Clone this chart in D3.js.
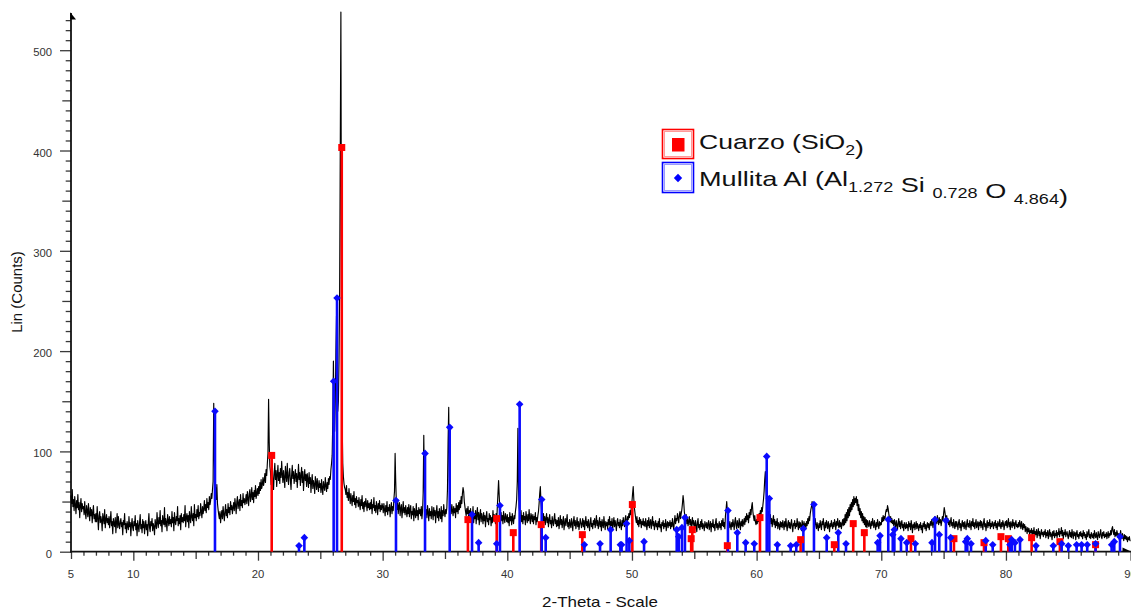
<!DOCTYPE html>
<html><head><meta charset="utf-8">
<script src="https://cdn.jsdelivr.net/npm/d3@7"></script>
<style>html,body{margin:0;padding:0;background:#fff;} svg{display:block;}</style>
</head><body><svg id="chart" width="1131" height="613"></svg>
<script>
// Diffractogram, sampled every 0.05° 2θ from 5° to 90° (one row per degree)
const scanStart = 5, scanStep = 0.05;
const scanCounts = [
  56,48,62,45,52,41,55,47,38,51,44,57,42,49,34,46,53,40,48,43,   // 5
  45,37,50,39,33,46,41,35,48,38,31,44,36,42,29,39,46,33,37,30,   // 6
  38,30,45,33,22,36,40,29,35,31,21,38,33,28,42,24,32,37,29,33,   // 7
  27,35,24,31,40,26,30,18,33,28,25,34,19,29,38,24,35,27,23,30,   // 8
  33,25,29,17,31,27,38,23,28,19,30,26,22,35,25,29,16,27,33,24,   // 9
  21,30,26,36,22,28,16,31,25,20,29,37,23,27,19,32,24,30,18,26,   // 10
  31,22,27,16,29,38,24,20,30,26,33,21,28,25,17,32,27,23,39,29,   // 11
  24,34,28,41,26,31,20,36,30,27,44,25,33,29,21,37,31,26,35,28,   // 12
  32,25,40,29,34,21,39,30,27,35,31,45,26,33,28,36,22,38,30,34,   // 13
  29,37,31,46,25,34,38,30,36,24,40,33,29,45,35,31,38,26,47,34,   // 14
  37,31,42,35,46,33,39,36,48,40,34,45,38,43,51,41,47,39,53,44,   // 15
  49,42,55,47,51,58,53,62,70,148,95,58,64,52,67,48,42,37,33,40,  // 16
  29,36,41,33,45,38,31,40,47,36,42,34,48,39,44,37,50,42,46,38,   // 17
  44,49,41,53,46,38,50,55,43,48,52,41,57,46,51,44,58,49,53,47,   // 18
  51,57,48,60,53,46,58,62,50,55,64,52,59,49,61,55,66,53,58,63,   // 19
  56,65,58,69,61,72,63,67,74,66,71,78,69,82,76,88,98,152,110,85, // 20
  80,67,76,84,70,62,79,88,72,81,65,77,86,71,79,68,83,74,90,77,   // 21
  69,81,73,64,85,76,70,88,74,67,79,83,71,62,77,86,73,80,68,75,   // 22
  82,70,78,64,74,87,72,79,66,76,84,69,80,61,73,82,71,77,65,78,   // 23
  72,64,79,68,74,59,70,77,63,71,67,58,75,69,62,73,66,60,71,64,   // 24
  68,59,72,63,57,70,65,61,74,66,60,69,63,73,67,75,72,82,88,96,   // 25
  130,190,140,120,150,200,235,170,140,150,190,260,400,538,260,130,88,75,68,64, // 26
  62,57,66,54,59,51,63,55,48,58,52,46,56,50,60,47,53,44,55,49,   // 27
  51,45,54,47,42,52,46,56,43,49,40,50,45,53,47,41,51,44,48,42,   // 28
  49,43,52,38,47,44,54,41,46,39,50,45,37,48,43,51,40,46,42,48,   // 29
  45,39,48,42,36,46,40,50,37,44,41,47,35,43,49,38,45,41,52,60,   // 30
  98,70,48,42,52,38,45,49,36,43,47,34,41,50,39,44,37,46,40,35,   // 31
  44,38,47,35,42,46,33,40,37,45,31,43,39,34,48,36,41,32,44,38,   // 32
  42,36,45,33,40,58,116,62,44,37,42,34,46,39,31,43,36,40,33,45,  // 33
  38,32,44,36,41,29,39,46,34,40,31,43,37,33,45,30,41,36,47,39,   // 34
  35,42,38,44,62,110,144,75,50,44,38,47,41,36,45,39,43,34,48,40, // 35
  46,38,49,42,51,44,55,48,58,64,60,50,45,40,36,43,38,45,33,41,   // 36
  36,43,31,39,34,45,29,38,33,41,28,37,44,32,39,27,36,42,30,38,   // 37
  34,28,39,31,36,25,35,40,30,33,27,38,32,36,26,34,29,41,31,37,   // 38
  33,28,38,31,45,58,71,56,42,35,39,31,36,28,40,33,29,38,34,30,   // 39
  37,29,34,26,39,31,35,27,38,32,28,36,33,40,45,52,70,123,62,44,  // 40
  38,33,41,30,36,28,39,32,35,27,40,34,29,37,31,42,33,28,38,35,   // 41
  30,37,28,35,32,39,27,34,30,36,40,48,58,65,50,42,36,31,38,29,   // 42
  35,27,33,38,29,34,25,32,37,28,31,24,35,30,26,33,38,28,32,25,   // 43
  31,26,34,23,29,36,27,32,24,30,35,22,28,33,26,31,37,25,29,23,   // 44
  32,27,24,33,29,21,30,35,26,31,23,28,34,25,30,22,27,33,29,24,   // 45
  28,33,25,31,22,29,35,26,30,24,32,27,21,30,34,25,28,23,31,27,   // 46
  33,24,29,36,26,31,23,28,34,25,30,21,32,27,24,35,28,22,30,26,   // 47
  29,23,32,27,35,24,30,26,33,22,28,34,25,31,27,21,30,33,26,29,   // 48
  24,32,27,22,31,26,34,29,25,33,36,30,27,35,32,38,34,41,37,45,   // 49
  50,58,65,52,43,38,33,29,35,27,31,25,34,28,32,24,30,27,33,26,   // 50
  30,25,33,27,22,31,26,34,24,29,32,23,28,35,26,30,22,27,31,25,   // 51
  28,22,30,25,33,24,27,20,29,26,31,23,28,25,32,21,27,30,24,29,   // 52
  26,31,23,29,25,33,27,22,30,36,28,33,31,38,34,29,36,40,33,38,   // 53
  42,48,56,50,40,35,31,37,28,33,26,30,35,27,32,24,29,34,26,31,   // 54
  28,23,31,26,20,29,33,24,27,22,30,25,32,23,28,26,21,30,27,24,   // 55
  29,23,27,31,22,26,30,20,28,25,32,24,27,21,29,33,24,28,22,26,   // 56
  30,24,28,22,31,26,33,25,29,23,36,42,50,41,33,28,24,30,26,22,   // 57
  29,25,32,27,22,30,34,26,23,31,27,24,33,28,22,30,26,32,25,29,   // 58
  33,27,35,30,38,32,36,29,39,34,42,37,45,49,40,35,31,36,30,27,   // 59
  32,28,35,30,38,33,41,36,44,40,46,52,60,72,80,65,50,42,36,40,   // 60
  34,30,37,28,33,25,31,36,27,32,24,30,26,33,23,29,27,22,30,25,   // 61
  29,24,31,27,22,30,25,33,26,21,28,31,24,29,23,27,32,25,20,28,   // 62
  26,31,23,28,25,33,27,22,30,24,29,26,21,31,27,24,30,25,28,23,   // 63
  30,26,33,28,35,31,38,42,45,50,44,36,31,27,33,26,23,29,25,21,   // 64
  28,24,31,26,22,30,27,33,25,21,29,24,31,27,23,30,26,20,28,25,   // 65
  31,26,23,29,25,32,28,22,30,26,33,27,24,31,25,29,23,28,32,26,   // 66
  33,27,37,29,39,31,42,34,44,36,47,40,49,42,52,45,55,47,53,49,   // 67
  55,46,52,41,47,37,43,34,40,31,38,29,35,27,34,25,32,24,31,27,   // 68
  25,31,27,23,30,26,33,28,24,31,27,22,29,25,32,27,23,30,26,29,   // 69
  27,34,30,36,31,35,33,39,42,40,46,43,38,34,30,35,29,33,28,31,   // 70
  26,32,28,24,31,27,22,29,33,25,30,23,28,31,24,27,21,29,26,23,   // 71
  29,24,27,21,30,25,28,22,31,26,19,27,24,29,22,26,30,23,28,25,   // 72
  21,27,24,29,22,26,19,28,25,30,23,27,21,26,29,24,28,22,27,30,   // 73
  26,32,28,24,31,27,35,30,33,28,36,31,27,34,29,32,26,30,35,31,   // 74
  38,44,40,35,31,36,29,33,27,31,25,30,34,26,29,24,32,27,23,30,   // 75
  25,30,27,22,29,32,24,28,21,27,31,25,29,23,30,26,22,28,32,25,   // 76
  28,24,31,27,22,30,26,33,25,29,23,28,32,24,27,30,22,29,26,31,   // 77
  24,30,27,22,29,33,25,28,21,27,31,24,29,26,32,23,28,25,30,27,   // 78
  23,29,26,31,24,28,22,30,27,25,32,26,23,29,25,31,28,22,27,30,   // 79
  26,31,24,28,33,25,29,22,30,27,24,32,26,29,23,28,31,25,27,24,   // 80
  29,25,31,27,23,30,26,22,28,24,27,20,25,22,18,24,20,23,17,21,   // 81
  19,23,16,21,18,24,15,20,17,22,14,19,23,16,20,13,18,22,17,19,   // 82
  15,20,17,22,14,19,16,21,13,18,22,15,19,17,12,20,16,21,14,18,   // 83
  16,21,14,19,17,23,15,20,18,24,16,21,13,19,17,22,15,18,20,16,   // 84
  13,18,21,15,19,14,22,17,13,20,16,19,12,18,21,15,17,13,19,16,   // 85
  20,15,18,13,21,16,19,14,17,12,20,15,18,22,14,17,13,19,16,14,   // 86
  18,13,21,16,14,19,15,12,20,17,14,18,22,15,13,19,16,20,14,17,   // 87
  15,19,13,17,20,14,18,16,21,17,23,25,20,17,22,15,19,16,21,18,   // 88
  14,18,12,16,21,15,13,18,14,11,17,13,16,12,15,10,14,12,15,11,   // 89
  11                                                             // 90
];

// Reference pattern lines: Cuarzo (SiO2)
const quartzPos = [21.10,26.72,36.84,39.15,40.48,42.72,46.02,50.03,54.75,54.84,57.65,60.27,63.53,66.23,67.75,68.64,72.38,75.83,78.24,79.60,80.19,82.06,84.33,87.19];
const quartzInt = [96,403,32,33,19,27,17,47,13,22,6,34,12,7,28,19,13,13,9,15,13,14,10,7];

// Reference pattern lines: Mullita
const mullitePos = [16.55,23.29,23.72,26.07,26.34,31.07,33.40,35.38,37.17,37.70,39.15,39.41,40.99,42.76,43.08,46.18,47.44,48.29,49.07,49.17,49.57,49.79,50.97,53.59,53.75,54.01,54.25,57.70,58.45,59.12,59.81,60.81,61.02,61.66,62.73,63.18,63.75,64.60,65.62,66.55,67.17,69.71,69.90,70.56,70.92,71.05,71.58,72.04,72.73,74.07,74.31,74.65,75.19,75.57,76.77,76.90,77.20,78.38,78.94,80.32,80.46,80.72,81.13,82.41,83.80,84.47,85.00,85.67,86.07,86.52,87.19,88.48,88.69,89.15];
const mulliteInt = [140,6,14,170,253,51,98,124,37,9,8,46,147,52,14,7,8,22,7,7,28,11,10,22,15,24,34,41,19,9,8,95,53,7,6,7,23,47,14,19,8,9,16,32,17,22,13,9,8,9,32,17,31,14,10,13,8,11,7,7,12,9,12,6,6,8,6,7,7,7,8,7,10,15];

const xTickLabels = [5,10,20,30,40,50,60,70,80,90];
const yTickLabels = [0,100,200,300,400,500];

const svg = d3.select("#chart");
const font = "'Liberation Sans', Arial, Helvetica, sans-serif";
const stretch = 1.13;

const x = d3.scaleLinear().domain([5, 90]).range([71, 1130.6]);
const y = d3.scaleLinear().domain([0, 537]).range([551.7, 13.1]);

const scan = scanCounts.map((c, i) => ({ t: scanStart + i * scanStep, c }));

// ---- axes ----
const intRange = d3.range(5, 91);
const xMinor = intRange.filter(v => v % 5 !== 0);
const xMid = intRange.filter(v => v % 5 === 0 && v % 10 !== 0);
const xMajor = intRange.filter(v => v % 10 === 0);

function tickAxis(gen, vals, size, cls) {
  const g = svg.append("g").attr("class", cls).call(gen.tickValues(vals).tickSize(size).tickFormat(""));
  g.select(".domain").remove();
  g.selectAll(".tick line").attr("stroke", "#3a3a3a").attr("stroke-width", 1.3);
  return g;
}
tickAxis(d3.axisBottom(x), xMinor, 4, "xminor").attr("transform", "translate(0,551.7)");
tickAxis(d3.axisBottom(x), xMid, 7.3, "xmid").attr("transform", "translate(0,551.7)");
tickAxis(d3.axisBottom(x), xMajor, 9, "xmajor").attr("transform", "translate(0,551.7)");

const yVals = d3.range(0, 531, 10);
tickAxis(d3.axisLeft(y), yVals.filter(v => v % 50 !== 0), 5.3, "yminor").attr("transform", "translate(71,0)");
tickAxis(d3.axisLeft(y), yVals.filter(v => v % 50 === 0 && v % 100 !== 0), 8.7, "ymid").attr("transform", "translate(71,0)");
tickAxis(d3.axisLeft(y), yTickLabels, 11, "ymajor").attr("transform", "translate(71,0)");

// tick labels
svg.append("g").selectAll("text").data(xTickLabels).join("text")
  .attr("transform", d => `translate(${x(d)},578) scale(${stretch},1)`)
  .attr("text-anchor", "middle")
  .attr("font-family", font).attr("font-size", 10).attr("fill", "#333")
  .text(d => d);
svg.append("g").selectAll("text").data(yTickLabels).join("text")
  .attr("transform", d => `translate(52,${y(d) + 6}) scale(${stretch},1)`)
  .attr("text-anchor", "end")
  .attr("font-family", font).attr("font-size", 10).attr("fill", "#333")
  .text(d => d);

// axis lines with arrow heads
svg.append("line").attr("x1", 71).attr("x2", 71).attr("y1", 552.5).attr("y2", 13)
  .attr("stroke", "#111").attr("stroke-width", 1.8);
svg.append("line").attr("x1", 70).attr("x2", 1131).attr("y1", 551.7).attr("y2", 551.7)
  .attr("stroke", "#111").attr("stroke-width", 1.8);
svg.append("path").attr("d", "M70.2,12.3 L76,19.5 L70.2,19.5 Z").attr("fill", "#000");
svg.append("path").attr("d", "M1122.5,547.6 L1131,551.5 L1122.5,551.5 Z").attr("fill", "#000");

// axis titles
svg.append("text")
  .attr("transform", `translate(22,292) rotate(-90)`)
  .attr("text-anchor", "middle")
  .attr("font-family", font).attr("font-size", 15).attr("fill", "#111")
  .text("Lin (Counts)");
svg.append("text")
  .attr("transform", `translate(600,607) scale(${stretch},1)`)
  .attr("text-anchor", "middle")
  .attr("font-family", font).attr("font-size", 15).attr("fill", "#111")
  .text("2-Theta - Scale");

// ---- measured pattern ----
svg.append("path").datum(scan)
  .attr("fill", "none").attr("stroke", "#000").attr("stroke-width", 1.15)
  .attr("stroke-linejoin", "round")
  .attr("d", d3.line().x(d => x(d.t)).y(d => y(d.c)));

// ---- reference sticks ----
const quartz = quartzPos.map((p, i) => ({ p, v: quartzInt[i] }));
const mullite = mullitePos.map((p, i) => ({ p, v: mulliteInt[i] }));

svg.append("g").selectAll("line").data(quartz).join("line")
  .attr("x1", d => x(d.p)).attr("x2", d => x(d.p))
  .attr("y1", y(0)).attr("y2", d => y(d.v))
  .attr("stroke", "#ff0000").attr("stroke-width", 2.6);
svg.append("g").selectAll("line").data(mullite).join("line")
  .attr("x1", d => x(d.p)).attr("x2", d => x(d.p))
  .attr("y1", y(0)).attr("y2", d => y(d.v))
  .attr("stroke", "#0a0aff").attr("stroke-width", 2.6);

svg.append("g").selectAll("rect").data(quartz).join("rect")
  .attr("x", d => x(d.p) - 3.5).attr("y", d => y(d.v) - 3.5)
  .attr("width", 7).attr("height", 7).attr("fill", "#ff0000");
svg.append("g").selectAll("path").data(mullite).join("path")
  .attr("transform", d => `translate(${x(d.p)},${y(d.v)})`)
  .attr("d", "M0,-3.8 L3.8,0 L0,3.8 L-3.8,0 Z").attr("fill", "#0a0aff");

// ---- legend ----
const lg = svg.append("g");
lg.append("rect").attr("x", 662.5).attr("y", 129.5).attr("width", 31).attr("height", 29)
  .attr("fill", "#fff").attr("stroke", "#ff0000").attr("stroke-width", 1.6);
lg.append("rect").attr("x", 664.5).attr("y", 131.5).attr("width", 27).attr("height", 25)
  .attr("fill", "none").attr("stroke", "#ff9a9a").attr("stroke-width", 1);
lg.append("rect").attr("x", 672).attr("y", 138).attr("width", 12.5).attr("height", 13.5).attr("fill", "#ff0000");

lg.append("rect").attr("x", 662.5).attr("y", 162.5).attr("width", 31).attr("height", 30)
  .attr("fill", "#fff").attr("stroke", "#0000ff").attr("stroke-width", 1.6);
lg.append("rect").attr("x", 664.5).attr("y", 164.5).attr("width", 27).attr("height", 26)
  .attr("fill", "none").attr("stroke", "#9a9aff").attr("stroke-width", 1);
lg.append("path").attr("transform", "translate(678,178)")
  .attr("d", "M0,-4.2 L4.2,0 L0,4.2 L-4.2,0 Z").attr("fill", "#0000ff");

function legendText(yBase, parts, width) {
  const t = lg.append("text").attr("x", 699).attr("y", yBase)
    .attr("font-family", font).attr("font-size", 21).attr("fill", "#111")
    .attr("textLength", width).attr("lengthAdjust", "spacingAndGlyphs");
  parts.forEach(([s, sub]) => {
    t.append("tspan").attr("font-size", sub ? 14 : 21)
      .attr("dy", sub ? 6 : 0).text(s);
    if (sub) t.append("tspan").attr("dy", -6).text("");
  });
}
legendText(149, [["Cuarzo (SiO", false], ["2", true], [")", false]], 165);
legendText(186, [["Mullita Al (Al", false], ["1.272", true], [" Si ", false], ["0.728", true], [" O ", false], ["4.864", true], [")", false]], 369);
</script></body></html>
